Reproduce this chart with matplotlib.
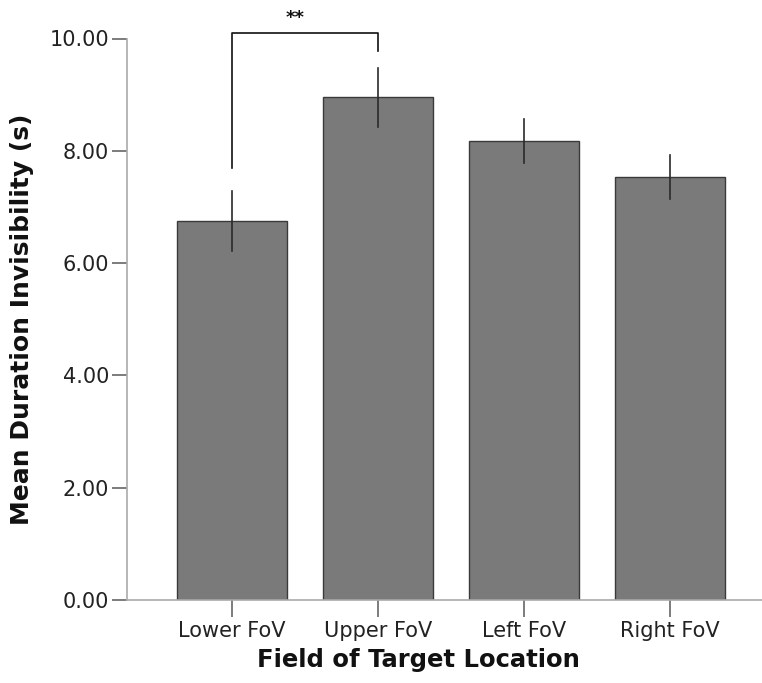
import matplotlib
matplotlib.use("Agg")
import matplotlib.pyplot as plt
import numpy as np

categories = ["Lower FoV", "Upper FoV", "Left FoV", "Right FoV"]
means = [6.75, 8.95, 8.17, 7.54]
err_low = [6.22, 8.42, 7.78, 7.14]
err_high = [7.28, 9.48, 8.56, 7.93]
yticks = [0, 2, 4, 6, 8, 10]
ytick_labels = ["0.00", "2.00", "4.00", "6.00", "8.00", "10.00"]
sig_label = "**"
sig_pair = (0, 1)
sig_top = 10.09
sig_leg_bottoms = (7.69, 9.78)

plt.rcParams['font.family'] = ['DejaVu Sans']
fig = plt.figure(figsize=(7.62, 6.83), dpi=100)
ax = fig.add_axes([127/762, 83/683, 1 - 127/762, (600-38.5)/683])

x = np.arange(len(categories))
ax.bar(x, means, width=0.753, color="#7a7a7a", edgecolor="#3a3a3a", linewidth=1.0, zorder=2)
for xi, lo, hi in zip(x, err_low, err_high):
    ax.plot([xi, xi], [lo, hi], color="#2a2a2a", linewidth=1.2, zorder=3)

# significance bracket
x0, x1 = sig_pair
ax.plot([x0, x0, x1, x1], [sig_leg_bottoms[0], sig_top, sig_top, sig_leg_bottoms[1]],
        color="#111111", linewidth=1.2, clip_on=False, zorder=3)
ax.text((x0 + x1) / 2 - 0.07, sig_top + 0.12, sig_label, ha="center", va="bottom",
        fontsize=13, fontweight="bold", color="#111111", clip_on=False)

ax.set_xlim(-0.72, 3.63)
ax.set_ylim(0, 10)
ax.set_yticks(yticks)
ax.set_yticklabels(ytick_labels, fontsize=15, color="#222222")
ax.set_xticks(x)
ax.set_xticklabels(categories, fontsize=15, color="#222222")

for s in ["top", "right"]:
    ax.spines[s].set_visible(False)
for s in ["left", "bottom"]:
    ax.spines[s].set_color("#aaaaaa")
    ax.spines[s].set_linewidth(1.2)
ax.tick_params(axis="y", length=11, width=1.2, color="#666666", pad=2)
ax.tick_params(axis="x", length=12, width=1.2, color="#666666", pad=3)

ax.set_ylabel("Mean Duration Invisibility (s)", fontsize=18, fontweight="bold", color="#111111")
ax.yaxis.set_label_coords(-0.146, 0.5)
ax.set_xlabel("Field of Target Location", fontsize=17.5, fontweight="bold", color="#111111")
ax.xaxis.set_label_coords((418-127)/635, -0.085)

fig.savefig("out.png", dpi=100)
